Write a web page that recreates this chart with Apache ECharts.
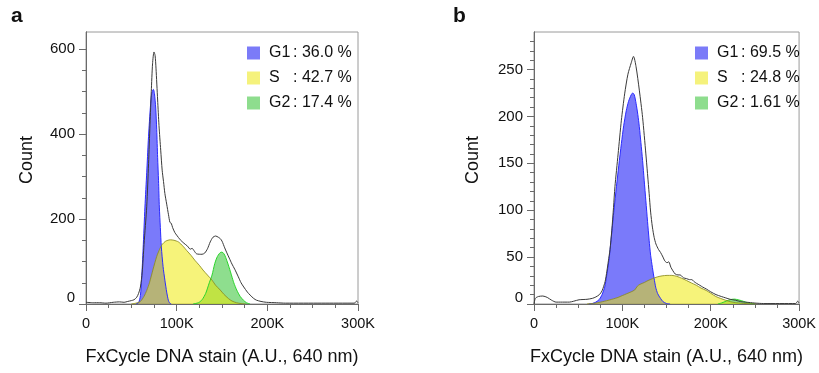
<!DOCTYPE html>
<html><head><meta charset="utf-8">
<script src="https://cdn.jsdelivr.net/npm/echarts@6/dist/echarts.min.js"></script>
<style>html,body{margin:0;padding:0;background:#fff}#c{width:819px;height:373px}</style>
</head><body><div id="c"></div>
<script>
// ---- data (x in thousands of A.U.) ----
const phaseLabels = ['G1', 'S', 'G2'];
const pctA = ['36.0', '42.7', '17.4'];
const pctB = ['69.5', '24.8', '1.61'];
const xTicks = [0, 100, 200, 300];
const yTicksA = [0, 200, 400, 600];
const yMinorTicksA = [50, 100, 150, 250, 300, 350, 450, 500, 550];
const yTicksB = [0, 50, 100, 150, 200, 250];
const yMinorTicksB = [10,20,30,40,60,70,80,90,110,120,130,140,160,170,180,190,210,220,230,240,260,270,280];

const totalA = [[0,4],[8,3],[15,3],[22,2],[30,4],[37,5],[42,4],[46,6],[50,8],[53,10],[56,16],[58,25],[60,40],[62,75],[64,140],[67,230],[69,330],[70.6,423],[72,500],[73.4,565],[75,593],[76.2,585],[77.2,555],[79,480],[80.5,420],[82.4,362],[84,315],[85.5,288],[87,260],[89,235],[91,210],[92.6,192],[94,190],[95.5,180],[98,168],[100,162],[104,151],[108,143],[112,136],[115,129],[117,131],[119,126],[122,118],[128,117],[131,120],[134,130],[137,146],[140,157],[143,160],[146,157],[148,154],[150,148],[153,132],[155,122],[158,108],[161,94],[164,82],[168,64],[171,50],[174,40],[178,28],[181,21],[185,13],[188,9],[193,6],[199,4],[210,3],[220,2],[260,2],[296,2],[298.5,7],[300,3]];
const g1A = [[55,0],[58,3],[60,20],[61.4,60],[63,130],[65,228],[67,310],[68.7,384],[70,430],[71.7,482],[73,500],[74.3,505],[75.5,495],[76.9,461],[78,410],[79,345],[80,290],[80.9,228],[82,180],[83.1,134],[85,88],[87,56],[89,28],[90.8,9],[92,3],[94,0]];
const sA = [[50,0],[55,2],[60,6],[64,18],[67,32],[70,50],[74,82],[78,112],[81,128],[84,140],[88,148],[93,151],[97,150],[102,146],[107,136],[111,126],[116,114],[120,103],[125,91],[129,80],[134,68],[139,56],[143,44],[148,33],[152,23],[157,13],[161,7],[166,3],[171,1],[176,0]];
const g2A = [[118,0],[124,3],[128,10],[132,25],[136,50],[139,68],[142,95],[145,112],[149,122],[151,121],[153,115],[155.2,103],[158,85],[160.7,66],[163,50],[166.2,33],[170,18],[173.6,9],[177,3],[181,0]];

const totalB = [[0,0],[1.5,6],[5,8],[10,8.5],[15,7],[20,4],[25,2],[30,2],[40,2],[45,3],[51,4.5],[60,5],[66,6],[70,7.5],[74,10],[77,14],[80.5,24],[82.5,35],[84.2,46],[86,58],[88,78],[90,103],[91.6,125],[95.2,160],[98.9,196],[102.6,224],[106.3,245],[110,257],[112.6,264],[115.5,253],[119.2,228],[122.9,199],[126.6,160],[130.3,118],[132,98],[134,82],[136,71],[138,64],[141,58],[143.2,55],[146,50],[148,46],[150.6,44],[152.5,45],[155,39],[159.8,32],[163,31],[165.4,31],[169,28],[172.8,27],[176,26],[178.5,26],[181,24],[184,22],[187.6,20],[191,18],[195,16],[200,13],[206,10],[212,8],[217,6.5],[222,5],[228,4],[234,2.5],[239,2],[245,1.5],[250,1],[260,0.5],[296,0.5],[298.5,3],[300,1]];
const g1B = [[62,0],[66,0.5],[70,2],[74,5],[77,10],[80,18],[82.2,30],[85,48],[87.9,75],[90.5,100],[93.3,125],[96,148],[98.9,171],[101.5,190],[104.4,206],[107,216],[110,223],[111.8,225],[113.5,223],[115.5,214],[117.5,202],[119.2,189],[121,172],[122.9,153],[124.7,132],[126.6,110],[128.5,88],[130.3,68],[132,52],[134,39],[136,27],[137.7,18],[140,11],[143.2,6],[146,2.5],[150,0.5],[154,0]];
const sB = [[60,0],[70,1],[80,3],[90,5.5],[95,7],[100,9],[105,11],[110,13],[114,15],[117,19],[120,21],[125,23],[129,25],[134,27],[140,29],[145,30],[150.6,30.5],[156,30.5],[161.6,29.5],[167,27.5],[172.7,25],[178,22.5],[183.7,20],[189,17],[194.8,14.5],[200,11.5],[205.8,8],[211,6],[217,4],[222,2.5],[228,1.5],[235,0.8],[245,0.2],[252,0]];
const g2B = [[208,0],[212,1],[216,2.5],[220,4],[224,5],[227,5.2],[231,4.5],[235,3.5],[239,2.2],[243,1],[247,0.3],[250,0]];

// ---- styles ----
const FONT = 'Liberation Sans, Arial, sans-serif';
const fill = {G1: 'rgba(0,0,245,0.52)', S: 'rgba(238,232,0,0.52)', G2: 'rgba(30,190,30,0.5)'};
const edge = {G1: '#2b2bff', S: 'rgba(140,140,30,0.85)', G2: '#2bd42b'};
const legendCol = {G1: '#7b7bf8', S: '#f5f27c', G2: '#8edd8e'};

const grids = [
  {left: 86, top: 32, width: 272, height: 272, show: true, borderColor: '#9a9a9a', borderWidth: 1},
  {left: 534, top: 32, width: 272, height: 272, show: true, borderColor: '#9a9a9a', borderWidth: 1}
];
const axisLineStyle = {color: '#6a6a6a', width: 1};
function xAxis(gi) {
  return {type: 'value', gridIndex: gi, min: 0, max: 300, interval: 100, splitLine: {show: false},
     axisLine: {lineStyle: axisLineStyle},
     axisTick: {show: true, length: 7, lineStyle: axisLineStyle},
     minorTick: {show: true, splitNumber: 4, length: 4, lineStyle: axisLineStyle},
     axisLabel: {customValues: xTicks, margin: 12, fontSize: 14.5, color: '#111', fontFamily: FONT,
       formatter: v => v === 0 ? '0' : v + 'K'},
     name: 'FxCycle DNA stain (A.U., 640 nm)', nameLocation: 'middle', nameGap: 44,
     nameTextStyle: {fontSize: 18, color: '#111', fontFamily: FONT}};
}
function yAxes(gi, max, ticks, minor, gap) {
  return [
    {type: 'value', gridIndex: gi, min: 0, max: max, position: 'left', splitLine: {show: false},
     axisLine: {show: true, onZero: false, lineStyle: axisLineStyle},
     axisTick: {show: true, length: 7, lineStyle: axisLineStyle, customValues: ticks},
     axisLabel: {customValues: ticks, margin: 11, fontSize: 15, color: '#111', fontFamily: FONT,
       formatter: v => v === 0 ? '{z|0}' : String(v),
       rich: {z: {fontSize: 15, color: '#111', fontFamily: FONT, padding: [0, 0, 12, 0]}}},
     name: 'Count', nameLocation: 'middle', nameGap: gap,
     nameTextStyle: {fontSize: 18, color: '#111', fontFamily: FONT, padding: [0, 0, 0, 16]}},
    {type: 'value', gridIndex: gi, min: 0, max: max, position: 'left', offset: 0, splitLine: {show: false},
     axisLine: {show: true, onZero: false, lineStyle: axisLineStyle},
     axisLabel: {show: false},
     axisTick: {show: true, length: 4, lineStyle: axisLineStyle, customValues: minor}}
  ];
}
function area(name, key, data, xi, yi) {
  return {type: 'line', name: name, xAxisIndex: xi, yAxisIndex: yi, data: data,
    showSymbol: false, smooth: 0.25, animation: false, silent: true,
    lineStyle: {color: edge[key], width: 1},
    itemStyle: {color: legendCol[key]},
    areaStyle: {color: fill[key], opacity: 1}};
}
function total(name, data, xi, yi) {
  return {type: 'line', name: name, xAxisIndex: xi, yAxisIndex: yi, data: data,
    showSymbol: false, smooth: 0.25, animation: false, silent: true,
    lineStyle: {color: '#3a3a3a', width: 1}};
}
function legend(left, suffix, pcts) {
  return {orient: 'vertical', left: left, top: 40, itemWidth: 13, itemHeight: 13, itemGap: 9,
    icon: 'rect', selectedMode: false,
    data: phaseLabels.map(p => ({name: p + suffix, itemStyle: {color: legendCol[p]}})),
    formatter: n => {
      const i = phaseLabels.indexOf(n.slice(0, -1));
      return '{n|' + phaseLabels[i] + '}{v|: ' + pcts[i] + ' %}';
    },
    textStyle: {rich: {
      n: {fontSize: 16, color: '#111', fontFamily: FONT, width: 24, padding: [0, 0, 0, 4]},
      v: {fontSize: 16, color: '#111', fontFamily: FONT}}}};
}

const chart = echarts.init(document.getElementById('c'), null, {renderer: 'canvas'});
chart.setOption({
  animation: false,
  backgroundColor: '#fff',
  grid: grids,
  xAxis: [xAxis(0), xAxis(1)],
  yAxis: [...yAxes(0, 640, yTicksA, yMinorTicksA, 50), ...yAxes(1, 290, yTicksB, yMinorTicksB, 52)],
  legend: [legend(242, 'a', pctA), legend(690, 'b', pctB)],
  series: [
    area('G1a', 'G1', g1A, 0, 0), area('G2a', 'G2', g2A, 0, 0), area('Sa', 'S', sA, 0, 0), total('Ta', totalA, 0, 0),
    area('G1b', 'G1', g1B, 1, 2), area('G2b', 'G2', g2B, 1, 2), area('Sb', 'S', sB, 1, 2), total('Tb', totalB, 1, 2)
  ],
  graphic: [
    {type: 'text', left: 11, top: 6, style: {text: 'a', fontSize: 21, fontWeight: 'bold', fill: '#111', fontFamily: FONT}},
    {type: 'text', left: 453, top: 6, style: {text: 'b', fontSize: 21, fontWeight: 'bold', fill: '#111', fontFamily: FONT}}
  ]
});
</script></body></html>
